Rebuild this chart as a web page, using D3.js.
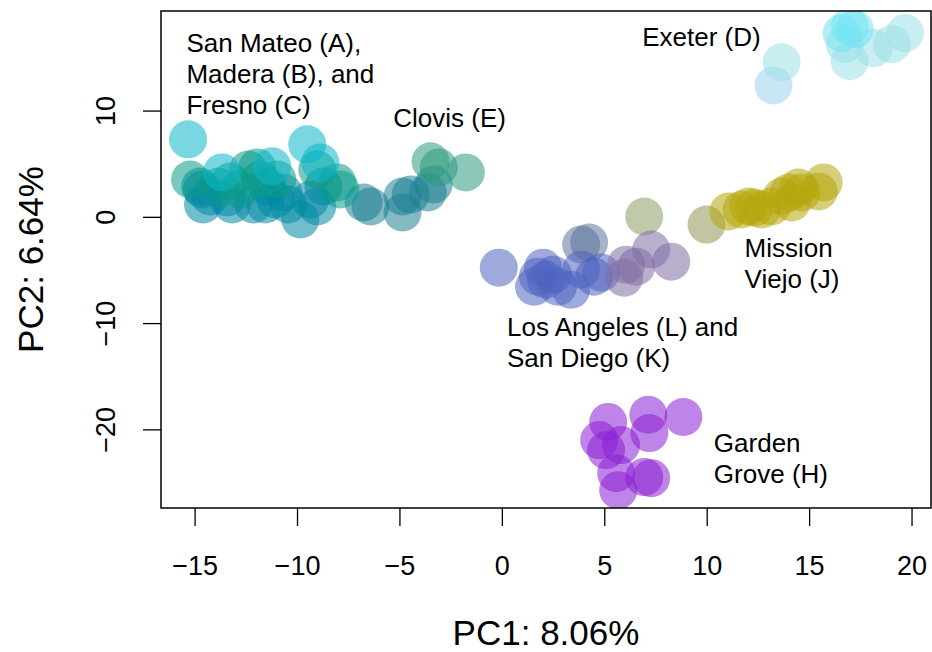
<!DOCTYPE html>
<html>
<head>
<meta charset="utf-8">
<script src="https://cdn.jsdelivr.net/npm/d3@7"></script>
<style>
  html, body { margin: 0; padding: 0; background: #fff; }
  svg { display: block; font-family: "Liberation Sans", Arial, Helvetica, sans-serif; }
</style>
</head>
<body>
<svg id="chart" width="932" height="652"></svg>
<script>
// PCA of samples: PC1 vs PC2 scores, one array per sample group
const sanMateoA = [[-15.32, 7.29], [-9.50, 6.82], [-13.66, 4.18], [-11.21, 4.75], [-8.86, 5.12]];
const maderaB = [[-15.22, 3.52], [-13.26, 3.33], [-12.38, 4.46], [-11.94, 4.65], [-11.80, 3.52],
                 [-10.96, 3.52], [-9.01, 4.46], [-8.03, 3.24], [-7.88, 2.58], [-12.78, 2.58], [-13.85, 2.86]];
const fresnoC = [[-14.59, 1.16], [-14.64, 2.58], [-13.41, 1.82], [-12.14, 1.16], [-11.06, 1.63],
                 [-10.67, 2.29], [-9.84, -0.25], [-8.71, 2.86], [-9.01, 0.97], [-14.24, 1.92],
                 [-14.73, 2.86], [-11.45, 2.86], [-13.17, 1.16], [-10.43, 1.16], [-9.35, 1.63], [-11.55, 1.16]];
const clovisE = [[-3.48, 5.22], [-3.08, 4.65], [-1.76, 4.18]];
const clovisE2 = [[-6.75, 1.35], [-6.41, 0.97], [-4.85, 1.92], [-4.85, 0.41], [-3.62, 2.29], [-3.33, 3.05], [-4.45, 2.10]];
const exeterD = [[13.66, 14.55], [16.74, 16.25], [16.98, 14.65], [18.16, 15.88], [19.04, 16.25], [19.68, 17.29]];
const exeterD2 = [[16.98, 17.95], [17.23, 17.67], [16.59, 17.29]];
const exeterD3 = [[13.26, 12.37]];
const missionViejoJ = [[11.06, 0.50], [11.70, 0.69], [12.04, 0.97], [12.33, 0.88], [12.68, 0.69], [13.17, 0.97],
                       [13.66, 1.92], [14.00, 2.29], [14.15, 1.35], [14.64, 2.29], [14.49, 2.76], [15.47, 2.39], [15.71, 3.24]];
const missionViejoJ2 = [[9.99, -0.73]];
const otherG = [[6.95, 0.03]];
const losAngelesL = [[-0.15, -4.78], [2.01, -4.78], [1.76, -5.63], [2.15, -5.92], [1.57, -6.58], [2.50, -5.44],
                     [2.74, -6.58], [3.38, -6.86], [3.87, -4.97], [4.50, -5.63], [4.85, -5.25]];
const sanDiegoK = [[6.07, -4.50], [5.97, -5.73], [6.56, -4.69], [7.29, -3.08], [8.27, -4.22]];
const sanDiegoK2 = [[3.87, -2.61], [4.26, -2.42]];
const gardenGroveH = [[5.19, -19.30], [7.15, -18.63], [8.86, -18.84], [7.20, -20.35], [4.75, -21.01], [5.09, -21.96],
                      [5.82, -21.48], [5.58, -24.12], [5.68, -25.72], [6.95, -24.49], [7.29, -24.59]];

// group colours, in drawing order
const groups = [
  { pts: exeterD3, color: "#9bd2ed" },
  { pts: exeterD, color: "#9be0e7" },
  { pts: exeterD2, color: "#73e4f2" },
  { pts: missionViejoJ2, color: "#929452" },
  { pts: missionViejoJ, color: "#b4a609" },
  { pts: otherG, color: "#899f64" },
  { pts: sanDiegoK2, color: "#5b739b" },
  { pts: losAngelesL, color: "#4f62c0" },
  { pts: sanDiegoK, color: "#806ea4" },
  { pts: gardenGroveH, color: "#8a1fd4" },
  { pts: clovisE2, color: "#1c8092" },
  { pts: clovisE, color: "#2e9b80" },
  { pts: fresnoC, color: "#0089a4" },
  { pts: maderaB, color: "#0a9b89" },
  { pts: sanMateoA, color: "#0ab6c8" }
];

const xTicks = [-15, -10, -5, 0, 5, 10, 15, 20];
const yTicks = [-20, -10, 0, 10];
const xTitle = "PC1: 8.06%";
const yTitle = "PC2: 6.64%";

// group labels: [x, y] in data units (first baseline), text lines
const labels = [
  { at: [-15.4, 15.5], lines: ["San Mateo (A),", "Madera (B), and", "Fresno (C)"] },
  { at: [-5.3, 8.45], lines: ["Clovis (E)"] },
  { at: [6.85, 16.05], lines: ["Exeter (D)"] },
  { at: [11.85, -3.8], lines: ["Mission", "Viejo (J)"] },
  { at: [0.25, -11.2], lines: ["Los Angeles (L) and", "San Diego (K)"] },
  { at: [10.35, -22.1], lines: ["Garden", "Grove (H)"] }
];

const plot = { left: 161, right: 931, top: 11, bottom: 508 };
const svg = d3.select("#chart");

const x = d3.scaleLinear().domain([-16.64, 20.95]).range([plot.left, plot.right]);
const y = d3.scaleLinear().domain([-27.4, 19.37]).range([plot.bottom, plot.top]);

svg.append("defs").append("clipPath").attr("id", "plotClip")
  .append("rect")
  .attr("x", plot.left).attr("y", plot.top)
  .attr("width", plot.right - plot.left).attr("height", plot.bottom - plot.top);

const pts = svg.append("g").attr("clip-path", "url(#plotClip)");
groups.forEach(g => {
  pts.selectAll(null).data(g.pts).enter().append("circle")
    .attr("cx", d => x(d[0]))
    .attr("cy", d => y(d[1]))
    .attr("r", 19)
    .attr("fill", g.color)
    .attr("fill-opacity", 0.55);
});

// labels
labels.forEach(l => {
  const t = svg.append("text")
    .attr("x", x(l.at[0]))
    .attr("y", y(l.at[1]))
    .attr("font-size", 26)
    .attr("fill", "#000");
  l.lines.forEach((s, i) => {
    t.append("tspan").attr("x", x(l.at[0])).attr("dy", i === 0 ? 0 : 31).text(s);
  });
});

// axes
const xAxis = svg.append("g")
  .attr("transform", `translate(0,${plot.bottom})`)
  .call(d3.axisBottom(x).tickValues(xTicks).tickSize(18).tickPadding(30));
const yAxis = svg.append("g")
  .attr("transform", `translate(${plot.left},0)`)
  .call(d3.axisLeft(y).tickValues(yTicks).tickSize(18));

[xAxis, yAxis].forEach(a => {
  a.select(".domain").remove();
  a.selectAll("line").attr("stroke", "#000").attr("stroke-width", 1.3);
  a.selectAll("text").attr("fill", "#000").attr("font-size", 27)
    .attr("font-family", "Liberation Sans, Arial, sans-serif");
});
yAxis.selectAll("text")
  .attr("x", 0).attr("y", 0).attr("dy", "0.36em")
  .attr("text-anchor", "middle")
  .attr("transform", "translate(-56,0) rotate(-90)");

// plot box
svg.append("rect")
  .attr("x", plot.left).attr("y", plot.top)
  .attr("width", plot.right - plot.left).attr("height", plot.bottom - plot.top)
  .attr("fill", "none").attr("stroke", "#000").attr("stroke-width", 1.5);

// axis titles
svg.append("text")
  .attr("x", (plot.left + plot.right) / 2).attr("y", 645)
  .attr("text-anchor", "middle").attr("font-size", 35).text(xTitle);
svg.append("text")
  .attr("transform", `translate(43,${(plot.top + plot.bottom) / 2}) rotate(-90)`)
  .attr("text-anchor", "middle").attr("font-size", 35).text(yTitle);
</script>
</body>
</html>
